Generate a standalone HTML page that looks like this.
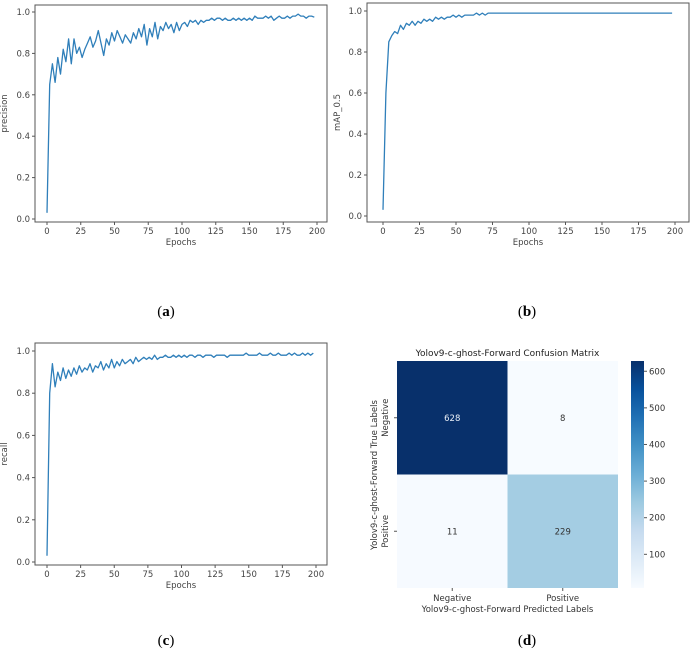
<!DOCTYPE html>
<html><head><meta charset="utf-8"><style>
html,body{margin:0;padding:0;background:#fff}
svg{display:block;font-family:"DejaVu Sans","Liberation Sans",sans-serif}
</style></head><body>
<svg id="fig" width="692" height="652" viewBox="0 0 692 652"></svg>
<script>
const xTicks=[0,25,50,75,100,125,150,175,200];
const yTicks=[0.0,0.2,0.4,0.6,0.8,1.0];
const precisionVals=[0.03,0.65,0.75,0.66,0.78,0.70,0.82,0.76,0.87,0.75,0.87,0.80,0.83,0.78,0.82,0.85,0.88,0.83,0.86,0.91,0.85,0.79,0.87,0.84,0.90,0.86,0.91,0.88,0.85,0.89,0.87,0.85,0.90,0.87,0.92,0.88,0.94,0.84,0.92,0.88,0.95,0.87,0.93,0.91,0.95,0.92,0.94,0.90,0.95,0.91,0.94,0.95,0.93,0.96,0.95,0.96,0.94,0.96,0.95,0.96,0.96,0.97,0.96,0.97,0.97,0.96,0.97,0.96,0.96,0.97,0.96,0.97,0.96,0.97,0.96,0.97,0.96,0.98,0.97,0.97,0.97,0.98,0.97,0.98,0.96,0.97,0.98,0.97,0.97,0.98,0.97,0.98,0.98,0.99,0.98,0.98,0.97,0.98,0.98,0.975];
const mapVals=[0.03,0.60,0.85,0.88,0.90,0.89,0.93,0.91,0.94,0.93,0.95,0.93,0.95,0.94,0.96,0.95,0.96,0.95,0.97,0.96,0.97,0.96,0.97,0.97,0.98,0.97,0.98,0.97,0.98,0.98,0.98,0.98,0.99,0.98,0.99,0.98,0.99,0.99,0.99,0.99,0.99,0.99,0.99,0.99,0.99,0.99,0.99,0.99,0.99,0.99,0.99,0.99,0.99,0.99,0.99,0.99,0.99,0.99,0.99,0.99,0.99,0.99,0.99,0.99,0.99,0.99,0.99,0.99,0.99,0.99,0.99,0.99,0.99,0.99,0.99,0.99,0.99,0.99,0.99,0.99,0.99,0.99,0.99,0.99,0.99,0.99,0.99,0.99,0.99,0.99,0.99,0.99,0.99,0.99,0.99,0.99,0.99,0.99,0.99,0.99];
const recallVals=[0.03,0.80,0.94,0.83,0.90,0.86,0.92,0.87,0.91,0.88,0.92,0.89,0.93,0.90,0.92,0.91,0.94,0.90,0.93,0.92,0.95,0.91,0.94,0.92,0.96,0.92,0.95,0.93,0.96,0.94,0.95,0.96,0.94,0.97,0.95,0.96,0.97,0.96,0.97,0.96,0.98,0.96,0.97,0.97,0.98,0.97,0.97,0.98,0.97,0.98,0.97,0.98,0.97,0.98,0.98,0.97,0.98,0.98,0.97,0.98,0.98,0.98,0.97,0.98,0.98,0.98,0.98,0.97,0.98,0.98,0.98,0.98,0.98,0.98,0.99,0.98,0.98,0.98,0.98,0.99,0.98,0.98,0.98,0.99,0.98,0.98,0.99,0.98,0.98,0.98,0.99,0.98,0.99,0.98,0.98,0.99,0.98,0.99,0.98,0.99];
const cmLabels=["Negative","Positive"];
const cmVals=[[628,8],[11,229]];
const cbTicks=[100,200,300,400,500,600];

const NS="http://www.w3.org/2000/svg";
const svg=document.getElementById('fig');
function mk(tag,attrs,parent,text){const e=document.createElementNS(NS,tag);for(const k in attrs)e.setAttribute(k,attrs[k]);if(text!==undefined)e.textContent=text;(parent||svg).appendChild(e);return e;}

function linePanel(name,vals,ylabel,box,x0,x200,y0,y1,labelX){
  const g=mk('g',{});
  
  
  const sx=v=>x0+(x200-x0)*v/200, sy=v=>y0+(y1-y0)*v;
  const fr=mk('rect',{x:box[0],y:box[1],width:box[2]-box[0],height:box[3]-box[1],fill:'none',stroke:'#555','stroke-width':1},g);
  
  
  xTicks.forEach(t=>{const x=sx(t);mk('line',{x1:x,x2:x,y1:box[3],y2:box[3]+3,stroke:'#555'},g);
    const tx=mk('text',{x:x,y:box[3]+12,'font-size':8.5,'text-anchor':'middle',fill:'#444'},g,String(t));
    });
  yTicks.forEach(t=>{const y=sy(t);mk('line',{x1:box[0],x2:box[0]-3,y1:y,y2:y,stroke:'#555'},g);
    const tx=mk('text',{x:box[0]-5,y:y+3,'font-size':8.5,'text-anchor':'end',fill:'#444'},g,t.toFixed(1));
    });
  const xl=mk('text',{x:(box[0]+box[2])/2,y:box[3]+23,'font-size':8.5,'text-anchor':'middle',fill:'#444'},g,'Epochs');
  
  const cy=(box[1]+box[3])/2;
  const yl=mk('text',{x:labelX,y:cy,'font-size':8.5,'text-anchor':'middle',fill:'#444',transform:`rotate(-90 ${labelX} ${cy})`},g,ylabel);
  
  const pts=vals.map((v,i)=>sx(i*2).toFixed(1)+','+sy(v).toFixed(1)).join(' ');
  const pl=mk('polyline',{points:pts,fill:'none',stroke:'#2f7fba','stroke-width':1.3,'stroke-linejoin':'round'},g);
  
  
}
linePanel('precision',precisionVals,'precision',[35,5,327,222],47,317,219,12,7);
linePanel('map',mapVals,'mAP_0.5',[367,3,689,222],383,675,216,11,340);
linePanel('recall',recallVals,'recall',[35,343,327,565],47,316,562,351,7);

const cm=mk('g',{});


const L=397,R=618,T=361,B=588,cw=(R-L)/2,ch=(B-T)/2;
const vmin=8,vmax=628;
const stops=[[0,[247,251,255]],[0.125,[222,235,247]],[0.25,[198,219,239]],[0.375,[158,202,225]],[0.5,[107,174,214]],[0.625,[66,146,198]],[0.75,[33,113,181]],[0.875,[8,81,156]],[1,[8,48,107]]];
function blues(v){const t=Math.max(0,Math.min(1,(v-vmin)/(vmax-vmin)));for(let i=1;i<stops.length;i++){if(t<=stops[i][0]){const a=stops[i-1],b=stops[i],f=(t-a[0])/(b[0]-a[0]);return 'rgb('+a[1].map((c,k)=>Math.round(c+(b[1][k]-c)*f)).join(',')+')';}}return 'rgb(8,48,107)';}
cmVals.forEach((row,r)=>row.forEach((v,c)=>{
  const cell=mk('rect',{x:L+c*cw,y:T+r*ch,width:cw,height:ch,fill:blues(v)},cm);
  
  
  const tx=mk('text',{x:L+c*cw+cw/2,y:T+r*ch+ch/2+3,'font-size':8.5,'text-anchor':'middle',fill:v>vmax/2?'#e8eef6':'#333'},cm,String(v));
  
}));
cmLabels.forEach((lab,i)=>{
  const x=L+i*cw+cw/2;mk('line',{x1:x,x2:x,y1:B,y2:B+3,stroke:'#555'},cm);
  const t=mk('text',{x:x,y:B+13,'font-size':8.5,'text-anchor':'middle',fill:'#333'},cm,lab);
  
  const y=T+i*ch+ch/2;mk('line',{x1:L,x2:L-3,y1:y,y2:y,stroke:'#555'},cm);
  const t2=mk('text',{x:388,y:y,'font-size':8.5,'text-anchor':'middle',fill:'#333',transform:`rotate(-90 388 ${y})`},cm,lab);
  
});
const ttl=mk('text',{x:(L+R)/2,y:356,'font-size':9,'text-anchor':'middle',fill:'#222'},cm,'Yolov9-c-ghost-Forward Confusion Matrix');

const cxl=mk('text',{x:(L+R)/2,y:612,'font-size':8.5,'text-anchor':'middle',fill:'#333'},cm,'Yolov9-c-ghost-Forward Predicted Labels');

const cyl=mk('text',{x:377,y:475,'font-size':8.5,'text-anchor':'middle',fill:'#333',transform:'rotate(-90 377 475)'},cm,'Yolov9-c-ghost-Forward True Labels');

const defs=mk('defs',{});
const lg=mk('linearGradient',{id:'cbg',x1:0,y1:1,x2:0,y2:0},defs);
stops.forEach(s=>mk('stop',{offset:s[0],'stop-color':'rgb('+s[1].join(',')+')'},lg));
const cbx=631,cbw=13;
const cb=mk('rect',{x:cbx,y:T,width:cbw,height:B-T,fill:'url(#cbg)'},cm);

const cby=v=>B-(B-T)*(v-vmin)/(vmax-vmin);
cbTicks.forEach(t=>{const y=cby(t);mk('line',{x1:cbx+cbw,x2:cbx+cbw+3,y1:y,y2:y,stroke:'#555'},cm);
  const tx=mk('text',{x:cbx+cbw+5,y:y+3,'font-size':8.5,fill:'#333'},cm,String(t));
  });

[['(a)',166,316],['(b)',527,316],['(c)',166,645],['(d)',527,645]].forEach(c=>{
  const t=mk('text',{x:c[1],y:c[2],'font-size':15,'text-anchor':'middle',fill:'#000','font-family':'Liberation Serif,serif'},svg);
  t.appendChild(document.createTextNode('('));
  mk('tspan',{'font-weight':'bold'},t,c[0][1]);
  t.appendChild(document.createTextNode(')'));
  
});
</script>
</body></html>
